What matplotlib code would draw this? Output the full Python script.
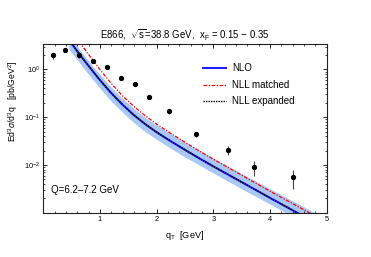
import matplotlib
matplotlib.use("Agg")
import matplotlib.pyplot as plt
import matplotlib.ticker as mticker
import numpy as np

# ---- data ----
qt_data = [0.17, 0.38, 0.63, 0.88, 1.12, 1.37, 1.62, 1.86, 2.22, 2.69, 3.25, 3.71, 4.40]
xs_data = [1.97, 2.55, 2.0, 1.52, 1.10, 0.665, 0.49, 0.265, 0.132, 0.0434, 0.021, 0.0089, 0.0056]
xs_err = [0.28, 0.25, 0.25, 0.15, 0.10, 0.06, 0.045, 0.03, 0.015, 0.0045, 0.0045, 0.003, 0.0024]

qt_th = [0.45, 0.5, 0.6, 0.7, 0.8, 0.9, 1.0, 1.2, 1.4, 1.6, 1.8, 2.0, 2.25, 2.5, 2.75, 3.0, 3.5, 4.0, 4.5, 4.9]
nlo = [4.17, 3.48, 2.40, 1.67, 1.18, 0.834, 0.596, 0.318, 0.182, 0.110, 0.0713, 0.0484, 0.0313,
       0.0207, 0.0138, 0.00933, 0.00437, 0.00204, 0.000966, 0.000531]
nlo_up = [5.13, 4.28, 3.03, 2.11, 1.52, 1.07, 0.785, 0.420, 0.245, 0.152, 0.0984, 0.0684, 0.0452,
          0.0299, 0.0204, 0.0138, 0.00661, 0.00316, 0.00153, 0.000841]
nlo_lo = [2.69, 2.24, 1.59, 1.11, 0.778, 0.564, 0.403, 0.215, 0.126, 0.0764, 0.0493, 0.0343, 0.0221,
          0.0146, 0.0100, 0.00676, 0.00316, 0.00151, 0.000716, 0.000394]
nll_expanded = [4.17, 3.48, 2.40, 1.67, 1.18, 0.834, 0.596, 0.318, 0.182, 0.110, 0.0713, 0.0484, 0.0313,
                0.0207, 0.0138, 0.00933, 0.00437, 0.00204, 0.000966, 0.000531]

qt_red = [0.55, 0.6, 0.7, 0.8, 1.0, 1.2, 1.4, 1.6, 1.8, 2.0, 2.25, 2.5, 2.75, 3.0, 3.5, 4.0, 4.5, 4.9]
nll_matched = [5.26, 4.38, 2.98, 2.05, 0.989, 0.505, 0.278, 0.167, 0.107, 0.0716, 0.0457, 0.0299,
               0.0197, 0.0132, 0.00610, 0.00282, 0.00133, 0.000733]

xticks = [1, 2, 3, 4, 5]
yticks = [1e-2, 1e-1, 1e0]

plt.rcParams['font.family'] = ['Liberation Sans', 'DejaVu Sans']
plt.rcParams['mathtext.fontset'] = 'custom'
plt.rcParams['mathtext.rm'] = 'Liberation Sans'
plt.rcParams['mathtext.it'] = 'Liberation Sans:italic'

fig = plt.figure(figsize=(3.71, 2.57), dpi=100)
ax = fig.add_axes([0.1167, 0.1724, 0.7639, 0.6583])

ax.fill_between(qt_th, nlo_lo, nlo_up, color='#aac8f5', lw=0, zorder=1)
ax.plot(qt_th, nlo, color='#2020ff', lw=1.5, zorder=2, label='NLO')
ax.plot(qt_red, nll_matched, color='#ff0000', lw=0.9, ls=(0, (3, 1.2, 1, 1.2)), zorder=3, label='NLL matched')
ax.plot(qt_th, nll_expanded, color='black', lw=1.0, ls=(0, (1, 0.8)), zorder=4, label='NLL expanded')
ax.errorbar(qt_data, xs_data, yerr=xs_err, fmt='o', color='black', ms=2.8, ecolor='#444444',
            elinewidth=0.8, capsize=0, zorder=5)

ax.set_yscale('log')
ax.set_xlim(0, 5)
ax.set_ylim(1.0e-3, 3.49)

ax.xaxis.set_major_locator(mticker.FixedLocator(xticks))
ax.xaxis.set_minor_locator(mticker.MultipleLocator(0.2))
ax.yaxis.set_major_locator(mticker.FixedLocator(yticks))
ax.yaxis.set_minor_locator(mticker.LogLocator(base=10, subs=np.arange(2, 10)))
ax.yaxis.set_minor_formatter(mticker.NullFormatter())
ax.tick_params(which='both', direction='in', top=True, right=True, labelsize=5.3, pad=2.5)
ax.tick_params(which='major', length=3, width=0.6)
ax.tick_params(which='minor', length=1.6, width=0.5)
for s in ax.spines.values():
    s.set_linewidth(0.8)
    s.set_color('#222222')

ax.set_xlabel(r'q$_\mathrm{T}$  [GeV]', fontsize=6.6, labelpad=4)
ax.set_ylabel(r'Ed$^3\sigma$/d$^3$q   [pb/GeV$^2$]', fontsize=6.2)
ax.yaxis.set_label_coords(-0.082, 0.66)
ax.set_title(r'E866,  $\sqrt{\mathrm{s}}$=38.8 GeV,  x$_\mathrm{F}$ = 0.15 $-$ 0.35', fontsize=6.9, pad=3)

ax.text(0.028, 0.135, 'Q=6.2\u20137.2 GeV', transform=ax.transAxes, fontsize=7.0, ha='left', va='center')

leg = ax.legend(loc='upper left', bbox_to_anchor=(0.549, 0.905), frameon=False, fontsize=7.0,
                handlelength=2.37, labelspacing=0.67, handletextpad=0.62, borderaxespad=0)

fig.savefig('out.png', dpi=100)
